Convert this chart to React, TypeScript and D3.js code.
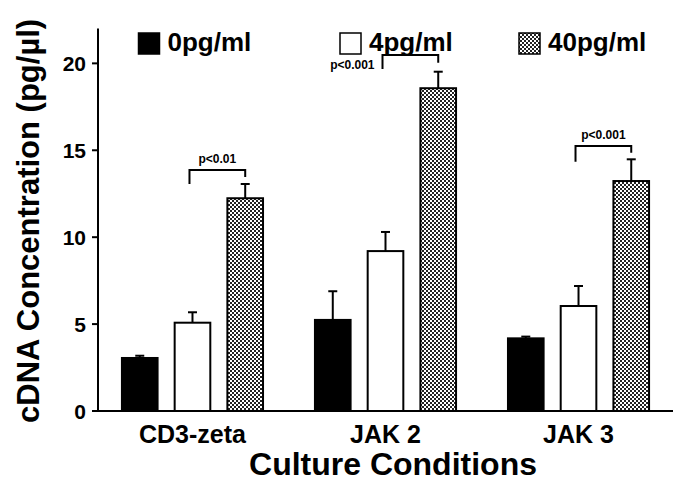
import React from "react";
import * as d3 from "d3";

const categories = ["CD3-zeta", "JAK 2", "JAK 3"];
const series = ["0pg/ml", "4pg/ml", "40pg/ml"];
const values0 = [3.05, 5.24, 4.18];
const errors0 = [0.13, 1.65, 0.1];
const values4 = [5.08, 9.2, 6.04];
const errors4 = [0.6, 1.1, 1.15];
const values40 = [12.24, 18.57, 13.23];
const errors40 = [0.82, 0.95, 1.25];
const yTicks = [0, 5, 10, 15, 20];
const pLabels = ["p<0.01", "p<0.001", "p<0.001"];
const bracketTop = [13.87, 20.48, 15.25];
const bracketLeftEnd = [13.06, 19.68, 14.34];
const bracketRightEnd = [13.46, 20.04, 14.86];

const W = 685;
const H = 492;
const FONT = "'Liberation Sans', Arial, Helvetica, sans-serif";

export default function App() {
  const x0 = d3
    .scaleBand<string>()
    .domain(categories)
    .range([98, 673])
    .paddingInner(0.269)
    .paddingOuter(0.124);
  const x1 = d3
    .scaleBand<string>()
    .domain(series)
    .range([0, x0.bandwidth()])
    .paddingInner(0.324)
    .paddingOuter(0);
  const y = d3.scaleLinear().domain([0, 22]).range([411, 28.6]);

  const seriesValues = [values0, values4, values40];
  const seriesErrors = [errors0, errors4, errors40];
  const fills = ["#000", "#fff", "url(#checker)"];

  const bars: any[] = [];
  categories.forEach((c, ci) => {
    series.forEach((s, si) => {
      bars.push({
        c,
        s,
        ci,
        si,
        v: seriesValues[si][ci],
        e: seriesErrors[si][ci],
        fill: fills[si],
      });
    });
  });

  const capW = 9;
  const axisX = x0.range()[0];
  const axisRight = x0.range()[1];

  return (
    <svg
      width={W}
      height={H}
      style={{ position: "absolute", left: 0, top: 0, background: "#fff" }}
      fontFamily={FONT}
      fontWeight="bold"
    >
      <defs>
        <pattern id="checker" width={4} height={4} patternUnits="userSpaceOnUse">
          <rect width={4} height={4} fill="#fff" />
          <rect x={0} y={0} width={2} height={2} fill="#222" />
          <rect x={2} y={2} width={2} height={2} fill="#222" />
        </pattern>
      </defs>
      <rect width={W} height={H} fill="#fff" />

      {/* Bars */}
      {bars.map((b, i) => {
        const bx = (x0(b.c) as number) + (x1(b.s) as number);
        const bw = x1.bandwidth();
        const cx = bx + bw / 2;
        return (
          <g key={i}>
            <line
              x1={cx}
              x2={cx}
              y1={y(b.v)}
              y2={y(b.v + b.e)}
              stroke="#000"
              strokeWidth={2}
            />
            <line
              x1={cx - capW / 2}
              x2={cx + capW / 2}
              y1={y(b.v + b.e)}
              y2={y(b.v + b.e)}
              stroke="#000"
              strokeWidth={2}
            />
            <rect
              x={bx}
              y={y(b.v)}
              width={bw}
              height={y(0) - y(b.v)}
              fill={b.fill}
              stroke="#000"
              strokeWidth={2}
            />
          </g>
        );
      })}

      {/* Significance brackets */}
      {categories.map((c, ci) => {
        const lx = (x0(c) as number) + (x1(series[1]) as number) + x1.bandwidth() / 2 - 3;
        const rx = (x0(c) as number) + (x1(series[2]) as number) + x1.bandwidth() / 2;
        const ty = y(bracketTop[ci]);
        const path = `M${lx},${y(bracketLeftEnd[ci])}V${ty}H${rx}V${y(bracketRightEnd[ci])}`;
        const sideLabel = ci === 1;
        return (
          <g key={"br" + ci}>
            <path d={path} fill="none" stroke="#000" strokeWidth={2} />
            {sideLabel ? (
              <text
                x={lx - 8}
                y={y(bracketLeftEnd[ci])}
                textAnchor="end"
                fontSize={12}
                fill="#000"
              >
                {pLabels[ci]}
              </text>
            ) : (
              <text
                x={(lx + rx) / 2}
                y={ty - 7}
                textAnchor="middle"
                fontSize={12}
                fill="#000"
              >
                {pLabels[ci]}
              </text>
            )}
          </g>
        );
      })}

      {/* Axes */}
      <line x1={axisX} x2={axisX} y1={y.range()[1]} y2={y(0)} stroke="#000" strokeWidth={2} />
      <line x1={axisX - 1} x2={axisRight} y1={y(0)} y2={y(0)} stroke="#000" strokeWidth={2} />
      {yTicks.map((t) => (
        <g key={"t" + t}>
          <line x1={axisX - 6} x2={axisX} y1={y(t)} y2={y(t)} stroke="#000" strokeWidth={2} />
          <text
            x={axisX - 12}
            y={y(t)}
            dy="0.36em"
            textAnchor="end"
            fontSize={21}
            fill="#000"
          >
            {t}
          </text>
        </g>
      ))}

      {/* Category labels */}
      {categories.map((c) => (
        <text
          key={"c" + c}
          x={(x0(c) as number) + x0.bandwidth() / 2}
          y={443}
          textAnchor="middle"
          fontSize={25}
          fill="#000"
        >
          {c}
        </text>
      ))}

      {/* Axis titles */}
      <text x={393} y={475} textAnchor="middle" fontSize={32} fill="#000">
        Culture Conditions
      </text>
      <text
        transform={`translate(39,${423}) rotate(-90)`}
        textAnchor="start"
        fontSize={31}
        fill="#000"
      >
        cDNA Concentration (pg/µl)
      </text>

      {/* Legend */}
      {series.map((s, si) => {
        const lx = [138.5, 340, 519][si];
        return (
          <g key={"lg" + s}>
            <rect x={lx} y={33} width={21} height={21} fill={fills[si]} stroke="#000" strokeWidth={1.5} />
            <text x={lx + 29} y={51} fontSize={26} fill="#000">
              {s}
            </text>
          </g>
        );
      })}
    </svg>
  );
}
